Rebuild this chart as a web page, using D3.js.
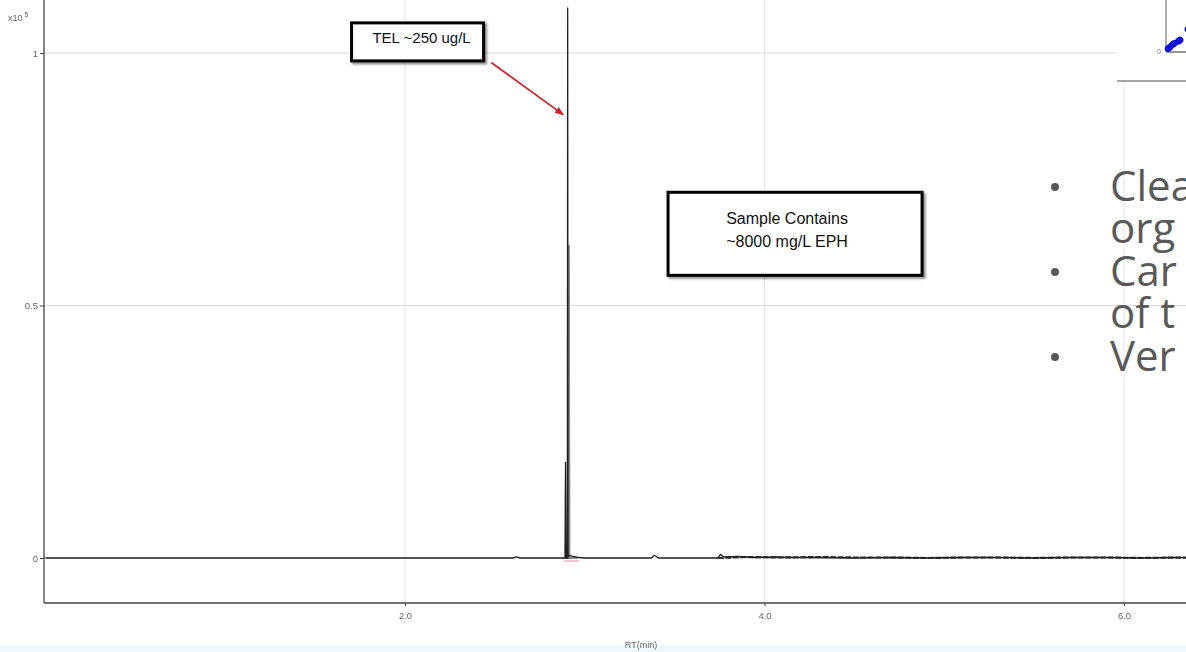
<!DOCTYPE html>
<html>
<head>
<meta charset="utf-8">
<script src="https://cdn.jsdelivr.net/npm/d3@7"></script>
<style>
  html, body { margin: 0; padding: 0; background: #ffffff; }
  svg { display: block; }
</style>
</head>
<body>
<svg id="chart" width="1186" height="652"></svg>
<script>
// Retention time (min) and detector response (x10^5) for the sample trace
const rtSample = [0.00, 0.60, 1.20, 1.80, 2.40, 2.60, 2.62, 2.64, 2.88, 2.890, 2.893, 2.896, 2.900, 2.903, 2.905, 2.907, 2.910, 2.920, 2.935, 2.950, 2.97, 3.00, 3.20, 3.37, 3.385, 3.395, 3.41, 3.60, 3.74, 3.755, 3.765, 3.78, 3.85, 3.95, 4.05, 4.15, 4.30, 4.50, 4.70, 4.90, 5.10, 5.30, 5.50, 5.70, 5.90, 6.10, 6.30, 6.50, 6.80];
const sigSample = [0.000, 0.000, 0.000, 0.000, 0.000, 0.000, 0.002, 0.000, 0.000, 0.000, 0.190, 0.000, 0.000, 0.000, 1.090, 0.000, 0.006, 0.004, 0.003, 0.002, 0.001, 0.000, 0.000, 0.000, 0.005, 0.004, 0.000, 0.000, 0.000, 0.007, 0.004, 0.002, 0.003, 0.001, 0.002, 0.001, 0.001, 0.000, 0.001, 0.000, 0.001, 0.001, 0.000, 0.001, 0.001, 0.000, 0.001, 0.000, 0.000];

// Low-level late-eluting baseline (hydrocarbon hump region)
const rtLate = [3.74, 3.90, 4.10, 4.30, 4.50, 4.70, 4.90, 5.10, 5.30, 5.50, 5.70, 5.90, 6.10, 6.30, 6.50, 6.80];
const sigLate = [0.000, 0.002, 0.001, 0.002, 0.001, 0.001, 0.000, 0.001, 0.001, 0.000, 0.001, 0.001, 0.000, 0.001, 0.000, 0.000];

// Overlaid second trace (grey)
const rtOverlay = [2.880, 2.905, 2.908, 2.911, 2.914, 2.920, 2.960];
const sigOverlay = [0.000, 0.000, 0.000, 0.620, 0.000, 0.000, 0.000];

// Axis ticks
const xTicks = [2.0, 4.0, 6.0];
const xTickLabels = ["2.0", "4.0", "6.0"];
const yTicks = [0, 0.5, 1];
const yTickLabels = ["0", "0.5", "1"];

// Annotations
const telNote = { text: "TEL ~250 ug/L", rt: 2.07, val: 1.022 };
const telArrow = { fromRt: 2.48, fromVal: 0.981, toRt: 2.88, toVal: 0.878 };
const ephNote = { lines: ["Sample Contains", "~8000 mg/L EPH"], rt: 4.17, val: 0.642 };

// Slide bullet text overlapping the right side
const bulletLines = [
  { bullet: true,  text: "Clea" },
  { bullet: false, text: "org" },
  { bullet: true,  text: "Car" },
  { bullet: false, text: "of t" },
  { bullet: true,  text: "Ver" }
];

// Inset chart points
const insetX = [0.05, 0.12, 0.22, 0.38];
const insetY = [0.08, 0.15, 0.22, 0.45];

const svg = d3.select("#chart");
const W = 1186, H = 652;

const x = d3.scaleLinear().domain([0, 7]).range([45.5, 45.5 + 7 * 179.75]);
const y = d3.scaleLinear().domain([0, 1]).range([558, 53]);

const plotLeft = 44, plotBottom = 603, plotTop = 0;

// light band at the very bottom of the slide
svg.append("rect").attr("x", 0).attr("y", 645).attr("width", W).attr("height", 7).attr("fill", "#eef7fb");

const defs = svg.append("defs");
const soft = defs.append("filter").attr("id", "soft");
soft.append("feGaussianBlur").attr("stdDeviation", 0.45);
const shadow = defs.append("filter").attr("id", "shadow").attr("x", "-10%").attr("y", "-10%").attr("width", "130%").attr("height", "140%");
shadow.append("feDropShadow").attr("dx", 2).attr("dy", 2).attr("stdDeviation", 1.2).attr("flood-color", "#000").attr("flood-opacity", 0.45);
defs.append("marker").attr("id", "arrowhead").attr("viewBox", "0 0 10 10").attr("refX", 9).attr("refY", 5)
  .attr("markerWidth", 5).attr("markerHeight", 5).attr("orient", "auto")
  .append("path").attr("d", "M0,1 L10,5 L0,9 Z").attr("fill", "#d02020");

const clip = defs.append("clipPath").attr("id", "plotClip");
clip.append("rect").attr("x", plotLeft).attr("y", plotTop).attr("width", W - plotLeft).attr("height", plotBottom - plotTop);

// grid
const grid = svg.append("g").attr("clip-path", "url(#plotClip)");
grid.selectAll("line.gx").data(xTicks).join("line")
  .attr("x1", d => x(d)).attr("x2", d => x(d)).attr("y1", plotTop).attr("y2", plotBottom)
  .attr("stroke", "#e3e3e3").attr("stroke-width", 1);
grid.selectAll("line.gy").data(yTicks).join("line")
  .attr("x1", plotLeft).attr("x2", W).attr("y1", d => y(d)).attr("y2", d => y(d))
  .attr("stroke", "#dcdcdc").attr("stroke-width", 1);

// traces
const line = d3.line().x(d => x(d[0])).y(d => y(d[1]));
const traces = svg.append("g").attr("clip-path", "url(#plotClip)");
traces.append("path").datum(d3.zip(rtLate, sigLate))
  .attr("d", line).attr("fill", "none").attr("stroke", "#333").attr("stroke-width", 2.2).attr("stroke-dasharray", "6,1.5");
traces.append("path").datum(d3.zip(rtOverlay, sigOverlay))
  .attr("d", line).attr("fill", "none").attr("stroke", "#8a8a8a").attr("stroke-width", 2.2);
traces.append("path").datum(d3.zip(rtSample, sigSample))
  .attr("d", line).attr("fill", "none").attr("stroke", "#222").attr("stroke-width", 1.3);
traces.append("line").attr("x1", x(2.885)).attr("x2", x(2.97)).attr("y1", y(-0.006)).attr("y2", y(-0.006))
  .attr("stroke", "#f3b7c4").attr("stroke-width", 2).attr("opacity", 0.8);

// axes
const axisColor = "#444";
const yAxis = d3.axisLeft(y).tickValues(yTicks).tickFormat((d, i) => yTickLabels[i]).tickSize(4).tickSizeOuter(0);
const gy = svg.append("g").attr("transform", `translate(${plotLeft},0)`).call(yAxis);
gy.select(".domain").remove();
gy.selectAll(".tick line").attr("stroke", axisColor);
gy.selectAll(".tick text").attr("font-family", "Liberation Sans, Arial, sans-serif").attr("font-size", 9.5)
  .attr("fill", "#666").attr("filter", "url(#soft)").attr("x", -6);
svg.append("line").attr("x1", plotLeft).attr("x2", plotLeft).attr("y1", plotTop).attr("y2", plotBottom)
  .attr("stroke", axisColor).attr("stroke-width", 1.3);

const xAxis = d3.axisBottom(x).tickValues(xTicks).tickFormat((d, i) => xTickLabels[i]).tickSize(3).tickSizeOuter(0);
const gx = svg.append("g").attr("transform", `translate(0,${plotBottom})`).call(xAxis);
gx.select(".domain").remove();
gx.selectAll(".tick line").attr("stroke", axisColor);
gx.selectAll(".tick text").attr("font-family", "Liberation Sans, Arial, sans-serif").attr("font-size", 9.5)
  .attr("fill", "#666").attr("filter", "url(#soft)").attr("y", 9);
svg.append("line").attr("x1", plotLeft).attr("x2", W).attr("y1", plotBottom).attr("y2", plotBottom)
  .attr("stroke", axisColor).attr("stroke-width", 1.3);

// axis titles
const mult = svg.append("text").attr("x", 8).attr("y", 21).attr("font-family", "Liberation Sans, Arial, sans-serif")
  .attr("font-size", 9).attr("fill", "#666").attr("filter", "url(#soft)");
mult.append("tspan").text("x10");
mult.append("tspan").attr("dy", -4).attr("font-size", 7).text(" 5");
svg.append("text").attr("x", 641).attr("y", 648).attr("text-anchor", "middle")
  .attr("font-family", "Liberation Sans, Arial, sans-serif").attr("font-size", 9).attr("fill", "#666")
  .attr("filter", "url(#soft)").text("RT(min)");

// TEL label box and arrow
const telG = svg.append("g");
const telW = 132, telH = 38;
telG.append("rect").attr("x", x(telNote.rt) - telW / 2).attr("y", y(telNote.val) - telH / 2)
  .attr("width", telW).attr("height", telH).attr("fill", "#fff").attr("stroke", "#000").attr("stroke-width", 3)
  .attr("filter", "url(#shadow)");
telG.append("text").attr("x", x(telNote.rt) + 4).attr("y", y(telNote.val) + 1).attr("text-anchor", "middle")
  .attr("font-family", "Liberation Sans, Arial, sans-serif").attr("font-size", 15).attr("fill", "#111").text(telNote.text);
svg.append("line").attr("x1", x(telArrow.fromRt)).attr("y1", y(telArrow.fromVal))
  .attr("x2", x(telArrow.toRt)).attr("y2", y(telArrow.toVal))
  .attr("stroke", "#c8282c").attr("stroke-width", 1.8).attr("marker-end", "url(#arrowhead)");

// EPH label box
const ephG = svg.append("g");
const ephW = 254, ephH = 83;
ephG.append("rect").attr("x", x(ephNote.rt) - ephW / 2).attr("y", y(ephNote.val) - ephH / 2)
  .attr("width", ephW).attr("height", ephH).attr("fill", "#fff").attr("stroke", "#000").attr("stroke-width", 3)
  .attr("filter", "url(#shadow)");
ephG.selectAll("text").data(ephNote.lines).join("text")
  .attr("x", x(ephNote.rt) - 8).attr("y", (d, i) => y(ephNote.val) - 10 + i * 23).attr("text-anchor", "middle")
  .attr("font-family", "Liberation Sans, Arial, sans-serif").attr("font-size", 16).attr("fill", "#111").text(d => d);

// inset chart in the top-right corner
const inset = svg.append("g");
inset.append("rect").attr("x", 1117).attr("y", 0).attr("width", W - 1117).attr("height", 81).attr("fill", "#fff");
inset.append("line").attr("x1", 1117).attr("x2", W).attr("y1", 81).attr("y2", 81).attr("stroke", "#888").attr("stroke-width", 1.5);
const ix = d3.scaleLinear().domain([0, 1]).range([1166, 1226]);
const iy = d3.scaleLinear().domain([0, 1]).range([52, 0]);
inset.append("line").attr("x1", ix(0)).attr("x2", ix(0)).attr("y1", 0).attr("y2", iy(0)).attr("stroke", "#777").attr("stroke-width", 1.2);
inset.append("line").attr("x1", ix(0)).attr("x2", W).attr("y1", iy(0)).attr("y2", iy(0)).attr("stroke", "#555").attr("stroke-width", 1.2);
inset.append("text").attr("x", ix(0) - 5).attr("y", iy(0) + 2).attr("text-anchor", "end")
  .attr("font-family", "Liberation Sans, Arial, sans-serif").attr("font-size", 7).attr("fill", "#777").text("0");
inset.selectAll("ellipse").data(d3.zip(insetX, insetY)).join("ellipse")
  .attr("cx", d => ix(d[0])).attr("cy", d => iy(d[1])).attr("rx", 4.5).attr("ry", 3.5)
  .attr("transform", d => `rotate(-35 ${ix(d[0])} ${iy(d[1])})`).attr("fill", "#1010d8");

// bullet text
const lineY = [201, 243, 286, 328, 371];
const bulletG = svg.append("g").attr("font-family", "Open Sans, sans-serif").attr("fill", "#595959");
bulletLines.forEach((b, i) => {
  if (b.bullet) bulletG.append("circle").attr("cx", 1055).attr("cy", lineY[i] - 14).attr("r", 4);
  bulletG.append("text").attr("x", 1110).attr("y", lineY[i]).attr("font-size", 42).text(b.text);
});
</script>
</body>
</html>
